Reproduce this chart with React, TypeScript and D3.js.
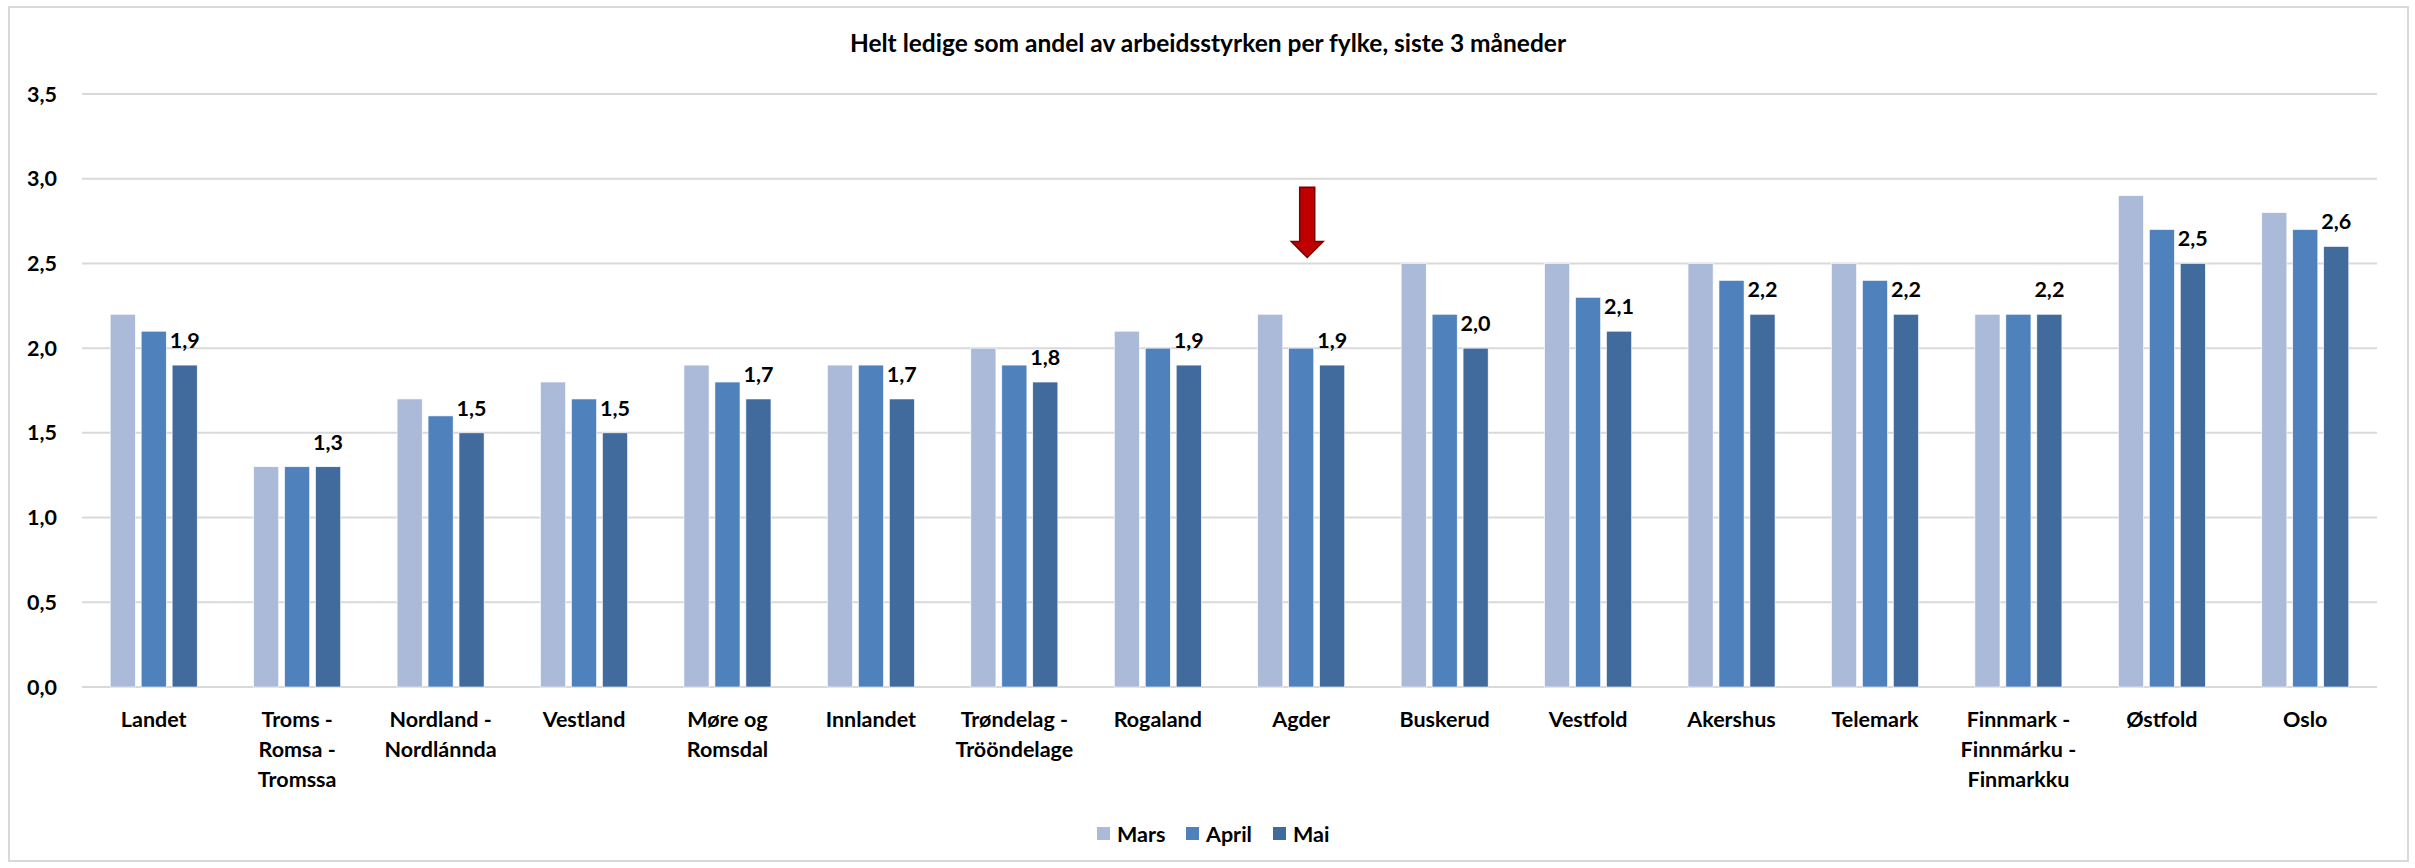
import React from 'react';
import * as d3 from 'd3';

// categories and monthly values
const categories = [
  'Landet',
  'Troms - Romsa - Tromssa',
  'Nordland - Nordlánnda',
  'Vestland',
  'Møre og Romsdal',
  'Innlandet',
  'Trøndelag - Trööndelage',
  'Rogaland',
  'Agder',
  'Buskerud',
  'Vestfold',
  'Akershus',
  'Telemark',
  'Finnmark - Finnmárku - Finmarkku',
  'Østfold',
  'Oslo',
];
const series = ['Mars', 'April', 'Mai'];
const mars = [2.2, 1.3, 1.7, 1.8, 1.9, 1.9, 2.0, 2.1, 2.2, 2.5, 2.5, 2.5, 2.5, 2.2, 2.9, 2.8];
const april = [2.1, 1.3, 1.6, 1.7, 1.8, 1.9, 1.9, 2.0, 2.0, 2.2, 2.3, 2.4, 2.4, 2.2, 2.7, 2.7];
const mai = [1.9, 1.3, 1.5, 1.5, 1.7, 1.7, 1.8, 1.9, 1.9, 2.0, 2.1, 2.2, 2.2, 2.2, 2.5, 2.6];
const yTicks = [0, 0.5, 1.0, 1.5, 2.0, 2.5, 3.0, 3.5];
const title = 'Helt ledige som andel av arbeidsstyrken per fylke, siste 3 måneder';
const highlighted = 'Agder';

const values = [mars, april, mai];
const colors = ['#ABBAD8', '#4F81BD', '#416A9D'];

const W = 2415;
const H = 868;
const font = 'Lato, "Open Sans", sans-serif';
const fmt = (v: number) => d3.format('.1f')(v).replace('.', ',');

// greedy word wrap by character count, like Excel's narrow category labels
function wrap(label: string, max = 11) {
  const words = label.split(' ');
  const lines: string[] = [];
  let cur = '';
  words.forEach((w) => {
    const next = cur ? cur + ' ' + w : w;
    if (next.length > max && cur) {
      lines.push(cur);
      cur = w;
    } else cur = next;
  });
  if (cur) lines.push(cur);
  return lines;
}

export default function App() {
  const x = d3.scaleBand().domain(categories).range([82, 2377]).paddingInner(0).paddingOuter(0);
  const inner = d3.scaleBand().domain(series).range([-43.5, 43.5]).paddingInner(0.19);
  const y = d3.scaleLinear().domain([0, 3.5]).range([687, 94]);

  const cx = (c: string) => (x(c) as number) + x.bandwidth() / 2;

  // arrow annotation above the highlighted county
  const ax = cx(highlighted) + 6;
  const aTop = y(2.95);
  const aNeck = y(2.63);
  const aTip = y(2.535);
  const arrow = [
    [ax - 7.5, aTop],
    [ax + 7.5, aTop],
    [ax + 7.5, aNeck],
    [ax + 16, aNeck],
    [ax, aTip],
    [ax - 16, aNeck],
    [ax - 7.5, aNeck],
  ];

  const legendX = [1097, 1186, 1273];

  return (
    <svg
      width={W}
      height={H}
      style={{ position: 'absolute', left: 0, top: 0, background: '#fff' }}
      fontFamily={font}
    >
      <rect x={9} y={7} width={2399} height={854} fill="#fff" stroke="#D9D9D9" strokeWidth={2} />

      <text x={1208} y={52} textAnchor="middle" fontSize={24.5} fontWeight="bold" fill="#000">
        {title}
      </text>

      {/* gridlines + y labels */}
      {yTicks.map((t) => (
        <g key={t}>
          <line x1={82} x2={2377} y1={y(t)} y2={y(t)} stroke="#D9D9D9" strokeWidth={2} />
          <text x={57} y={y(t)} dy="0.35em" textAnchor="end" fontSize={21.5} fontWeight="bold" fill="#000">
            {fmt(t)}
          </text>
        </g>
      ))}

      {/* bars */}
      {series.map((s, si) =>
        categories.map((c, ci) => (
          <rect
            key={s + c}
            x={cx(c) + (inner(s) as number)}
            y={y(values[si][ci])}
            width={inner.bandwidth()}
            height={y(0) - y(values[si][ci])}
            fill={colors[si]}
            stroke="#fff"
            strokeWidth={0.6}
          />
        ))
      )}

      {/* data labels on the last month */}
      {categories.map((c, ci) => (
        <text
          key={'lbl' + c}
          x={cx(c) + (inner('Mai') as number) + inner.bandwidth() / 2}
          y={y(mai[ci]) - 17}
          textAnchor="middle"
          fontSize={21.5}
          fontWeight="bold"
          fill="#000"
        >
          {fmt(mai[ci])}
        </text>
      ))}

      {/* category labels */}
      {categories.map((c) => (
        <text key={'x' + c} textAnchor="middle" fontSize={21.5} fontWeight="bold" fill="#000">
          {wrap(c).map((line, i) => (
            <tspan key={i} x={cx(c)} y={727 + i * 30}>
              {line}
            </tspan>
          ))}
        </text>
      ))}

      <path
        d={d3.line()(arrow as [number, number][]) + 'Z'}
        fill="#C00000"
        stroke="#7A0000"
        strokeWidth={1.5}
        strokeLinejoin="miter"
      />

      {/* legend */}
      {series.map((s, i) => (
        <g key={'leg' + s}>
          <rect x={legendX[i]} y={827} width={13} height={13} fill={colors[i]} />
          <text x={legendX[i] + 20} y={834} dy="0.35em" fontSize={21.5} fontWeight="bold" fill="#000">
            {s}
          </text>
        </g>
      ))}
    </svg>
  );
}
